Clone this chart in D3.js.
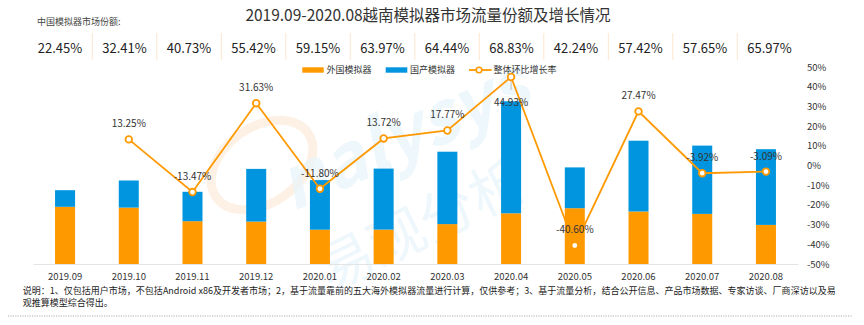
<!DOCTYPE html>
<html><head><meta charset="utf-8">
<script src="https://cdn.jsdelivr.net/npm/d3@7"></script>
<style>
html,body{margin:0;padding:0;background:#fff;}
svg{display:block;font-family:"Noto Sans CJK SC","Noto Sans",sans-serif;}
</style></head>
<body><svg id="c" width="864" height="325"></svg>
<script>
const title = "2019.09-2020.08越南模拟器市场流量份额及增长情况";
const months = ["2019.09","2019.10","2019.11","2019.12","2020.01","2020.02","2020.03","2020.04","2020.05","2020.06","2020.07","2020.08"];
const foreignEmu = [57.2, 56.4, 42.8, 42.4, 34.3, 34.4, 39.9, 50.7, 55.8, 52.5, 50.1, 39.1];
const chineseEmu = [16.6, 27.1, 29.4, 52.7, 49.6, 61.0, 72.4, 112.0, 40.8, 70.8, 68.3, 75.7];
const growth = [null, 13.25, -13.47, 31.63, -11.80, 13.72, 17.77, 44.93, -40.60, 27.47, -3.92, -3.09];
const shareLabels = ["22.45%","32.41%","40.73%","55.42%","59.15%","63.97%","64.44%","68.83%","42.24%","57.42%","57.65%","65.97%"];
const rightTicks = [50,40,30,20,10,0,-10,-20,-30,-40,-50];
const seriesNames = ["外国模拟器","国产模拟器","整体环比增长率"];
const shareTitle = "中国模拟器市场份额:";
const noteLine1 = "说明：1、仅包括用户市场，不包括Android x86及开发者市场；2，基于流量靠前的五大海外模拟器流量进行计算，仅供参考；3、基于流量分析，结合公开信息、产品市场数据、专家访谈、厂商深访以及易";
const noteLine2 = "观推算模型综合得出。";

const ORANGE = "#FF9900", BLUE = "#0095DE";
const svg = d3.select("#c");

// watermark
const wm = svg.append("g").attr("pointer-events","none");
wm.append("ellipse").attr("cx",262).attr("cy",165).attr("rx",56).attr("ry",38)
  .attr("transform","rotate(-35,262,165)")
  .attr("fill","none").attr("stroke","#FDEDE0").attr("stroke-width",9).attr("opacity",0.8);
wm.append("text").attr("x",292).attr("y",212).attr("transform","rotate(-24,292,212)")
  .attr("font-size",72).attr("font-style","italic").attr("font-weight","bold")
  .attr("fill","#E8F4FB").attr("opacity",0.7).text("nalysys");
wm.append("text").attr("x",330).attr("y",292).attr("transform","rotate(-26,330,292)")
  .attr("font-size",56).attr("fill","#E8F4FB").attr("opacity",0.7).text("易观分析");

// title
svg.append("text").attr("x",428).attr("y",20.5).attr("text-anchor","middle")
  .attr("font-size",15.5).attr("fill","#333").text(title);
svg.append("text").attr("x",37).attr("y",25).attr("font-size",9).attr("fill","#444").text(shareTitle);

// share table
const xt = d3.scaleBand().domain(months).range([27.8, 801.8]);
const tbl = svg.append("g");
months.forEach((m,i)=>{
  if(i>0) tbl.append("line").attr("x1",xt(m)).attr("x2",xt(m)).attr("y1",33).attr("y2",60)
     .attr("stroke","#FCE6CE").attr("stroke-width",1);
  tbl.append("text").attr("x",xt(m)+xt.bandwidth()/2).attr("y",52.8).attr("text-anchor","middle")
     .attr("font-size",13).attr("fill","#222").text(shareLabels[i]);
});

// scales
const x = d3.scaleBand().domain(months).range([33.2, 797.8]).paddingInner(0.686).paddingOuter(0.343);
const yL = d3.scaleLinear().domain([0,197]).range([264,67]);
const yR = d3.scaleLinear().domain([-50,50]).range([264,67]);

// bars
const bars = svg.append("g");
months.forEach((m,i)=>{
  bars.append("rect").attr("x",x(m)).attr("width",x.bandwidth())
    .attr("y",yL(foreignEmu[i])).attr("height",yL(0)-yL(foreignEmu[i])).attr("fill",ORANGE);
  bars.append("rect").attr("x",x(m)).attr("width",x.bandwidth())
    .attr("y",yL(foreignEmu[i]+chineseEmu[i])).attr("height",yL(0)-yL(chineseEmu[i])).attr("fill",BLUE);
});

// x axis
const xAxis = svg.append("g").attr("transform","translate(0,264)")
  .call(d3.axisBottom(x).tickSize(0).tickPadding(9));
xAxis.select(".domain").attr("stroke","#E3E3E3").attr("stroke-width",1.2);
xAxis.selectAll("text").attr("font-size",9.5).attr("fill","#333").attr("font-family",'"Noto Sans CJK SC",sans-serif');

// right axis
const rAxis = svg.append("g").attr("transform","translate(804,0)")
  .call(d3.axisRight(yR).tickValues(rightTicks).tickSize(0).tickPadding(3).tickFormat(d=>d+"%"));
rAxis.select(".domain").remove();
rAxis.selectAll("text").attr("font-size",9.5).attr("fill","#333").attr("font-family",'"Noto Sans CJK SC",sans-serif');

// line
const pts = months.map((m,i)=>({m, v:growth[i]})).filter(d=>d.v!==null);
const line = d3.line().x(d=>x(d.m)+x.bandwidth()/2).y(d=>yR(d.v));
svg.append("path").datum(pts).attr("d",line).attr("fill","none").attr("stroke",ORANGE).attr("stroke-width",1.8);
// leader for max label
const maxP = pts.find(d=>d.v===d3.max(growth));
svg.append("line").attr("x1",x(maxP.m)+x.bandwidth()/2).attr("x2",x(maxP.m)+x.bandwidth()/2)
  .attr("y1",yR(maxP.v)+4).attr("y2",yR(maxP.v)+13).attr("stroke","#BBB").attr("stroke-width",1);
svg.append("g").selectAll("circle").data(pts).join("circle")
  .attr("cx",d=>x(d.m)+x.bandwidth()/2).attr("cy",d=>yR(d.v)).attr("r",3.3)
  .attr("fill","#fff").attr("stroke",ORANGE).attr("stroke-width",1.8);
svg.append("g").selectAll("text").data(pts).join("text")
  .attr("x",d=>x(d.m)+x.bandwidth()/2)
  .attr("y",d=> d===maxP ? yR(d.v)+28.8 : yR(d.v)-12)
  .attr("text-anchor","middle").attr("font-size",10).attr("fill","#333")
  .text(d=>d.v.toFixed(2)+"%");

// legend
const lg = svg.append("g");
lg.append("rect").attr("x",302.3).attr("y",67.3).attr("width",21.4).attr("height",5.4).attr("fill",ORANGE);
lg.append("text").attr("x",326.5).attr("y",72.6).attr("font-size",9).attr("fill","#333").text(seriesNames[0]);
lg.append("rect").attr("x",385.7).attr("y",67.3).attr("width",21.6).attr("height",5.4).attr("fill",BLUE);
lg.append("text").attr("x",410).attr("y",72.6).attr("font-size",9).attr("fill","#333").text(seriesNames[1]);
lg.append("line").attr("x1",469).attr("x2",491.7).attr("y1",70).attr("y2",70).attr("stroke",ORANGE).attr("stroke-width",1.8);
lg.append("circle").attr("cx",479).attr("cy",70).attr("r",2.8).attr("fill","#fff").attr("stroke",ORANGE).attr("stroke-width",1.6);
lg.append("text").attr("x",493.5).attr("y",72.6).attr("font-size",9).attr("fill","#333").text(seriesNames[2]);

// notes
svg.append("text").attr("x",22.7).attr("y",294.3).attr("font-size",9).attr("fill","#222")
  .attr("textLength",813).attr("lengthAdjust","spacing").text(noteLine1);
svg.append("text").attr("x",22.7).attr("y",306).attr("font-size",9).attr("fill","#222").text(noteLine2);
svg.append("line").attr("x1",8).attr("x2",852).attr("y1",316).attr("y2",316)
  .attr("stroke","#999").attr("stroke-width",0.8).attr("stroke-dasharray","1.2,1.2");
</script></body></html>
